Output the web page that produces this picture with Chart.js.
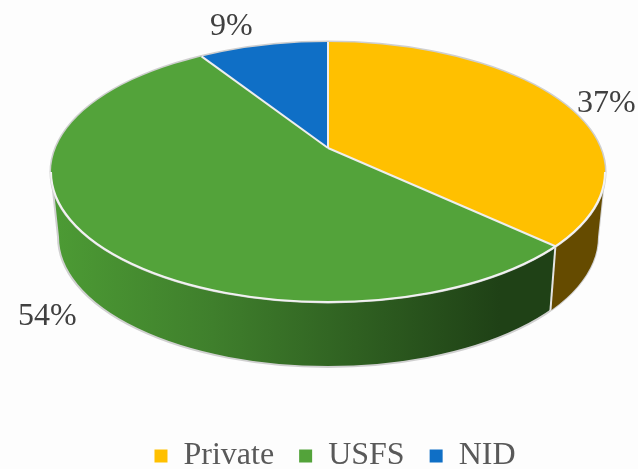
<!DOCTYPE html>
<html><head><meta charset="utf-8">
<style>html,body{margin:0;padding:0;background:#fdfdfd}#w{width:638px;height:469px}</style>
<script src="https://cdn.jsdelivr.net/npm/chart.js@4"></script></head>
<body><div id="w"><canvas id="c"></canvas></div>
<script>
const categories = ['Private', 'USFS', 'NID'];
const shares = [37, 54, 9];
const topColors = ['#FFC000', '#53A33A', '#0F6FC6'];

const G = {ax:328, ay:148, k:0.46, cx:328, cy:172, rx:277, ry:130, bcy:237, brx:270, bry:130};
const labelAt = [[577,112],[18,325],[210,35]];

function rim(angle){
  const dx=Math.cos(angle), dy=G.k*Math.sin(angle), oy=G.ay-G.cy;
  const A=dx*dx/(G.rx*G.rx)+dy*dy/(G.ry*G.ry), B=2*oy*dy/(G.ry*G.ry), C=oy*oy/(G.ry*G.ry)-1;
  const t=(-B+Math.sqrt(B*B-4*A*C))/(2*A);
  return [G.ax+t*dx, G.ay+t*dy];
}
function ellipseTop(ctx){ctx.beginPath();ctx.ellipse(G.cx,G.cy,G.rx,G.ry,0,0,Math.PI*2);}
const pie3d = {
  id:'pie3d',
  beforeDatasetsDraw(chart){
    const ctx=chart.ctx, arcs=chart.getDatasetMeta(0).data;
    const split=rim(arcs[0].endAngle);
    const bx=split[0]-5, by=G.bcy+G.bry*Math.sqrt(1-Math.pow((bx-G.cx)/G.brx,2));
    ctx.save();
    const wall=()=>{ctx.beginPath();ctx.moveTo(G.cx-G.rx,G.cy);ctx.lineTo(G.cx-G.brx,G.bcy);
      ctx.ellipse(G.cx,G.bcy,G.brx,G.bry,0,Math.PI,0,true);ctx.lineTo(G.cx+G.rx,G.cy);ctx.closePath();};
    wall();
    const grad=ctx.createLinearGradient(G.cx-G.brx,0,500,0);
    grad.addColorStop(0,'#4c9a34');grad.addColorStop(0.35,'#3f7f2c');grad.addColorStop(1,'#1f4116');
    ctx.fillStyle=grad;ctx.fill();
    ctx.strokeStyle='#d0d0d0';ctx.lineWidth=2;ctx.stroke();
    ctx.save();wall();ctx.clip();
    ctx.beginPath();ctx.moveTo(split[0],split[1]);ctx.lineTo(bx,by);ctx.lineTo(640,by+40);ctx.lineTo(640,100);ctx.closePath();
    ctx.fillStyle='#654B00';ctx.fill();
    ctx.restore();
    ctx.beginPath();ctx.moveTo(split[0],split[1]);ctx.lineTo(bx,by);ctx.strokeStyle='#e4e4e4';ctx.lineWidth=2;ctx.stroke();
    ctx.restore();
    ellipseTop(ctx);ctx.strokeStyle='#cfcfcf';ctx.lineWidth=3;ctx.stroke();
    ctx.save();
    ellipseTop(ctx);ctx.clip();
    const a=arcs[0], S=420/a.outerRadius;
    ctx.translate(G.ax,G.ay);ctx.scale(S,S*G.k);ctx.translate(-a.x,-a.y);
  },
  afterDatasetsDraw(chart){
    const ctx=chart.ctx, arcs=chart.getDatasetMeta(0).data;
    ctx.restore();
    ctx.save();
    ctx.strokeStyle='#eeeeee';ctx.lineWidth=2;
    arcs.forEach(el=>{const p=rim(el.startAngle);ctx.beginPath();ctx.moveTo(G.ax,G.ay);ctx.lineTo(p[0],p[1]);ctx.stroke();});
    ctx.beginPath();ctx.ellipse(G.cx,G.cy,G.rx,G.ry,0,0,Math.PI);ctx.strokeStyle='#f2f2f2';ctx.stroke();
    ctx.fillStyle='#404040';ctx.font='32px "Liberation Serif"';ctx.textBaseline='alphabetic';ctx.textAlign='left';
    shares.forEach((v,i)=>ctx.fillText(v+'%',labelAt[i][0],labelAt[i][1]));
    ctx.restore();
  }
};
Chart.register(pie3d);
new Chart(document.getElementById('c'),{
  type:'pie',
  data:{labels:categories,datasets:[{data:shares,backgroundColor:topColors,borderWidth:0,clip:false}]},
  options:{
    responsive:true,maintainAspectRatio:false,animation:false,
    layout:{padding:{left:32,bottom:-13}},
    plugins:{tooltip:{enabled:false},
      legend:{position:'bottom',
        labels:{boxWidth:13,boxHeight:13,padding:25,color:'#595959',font:{family:'"Liberation Serif"',size:32}}}}
  }
});
</script></body></html>
